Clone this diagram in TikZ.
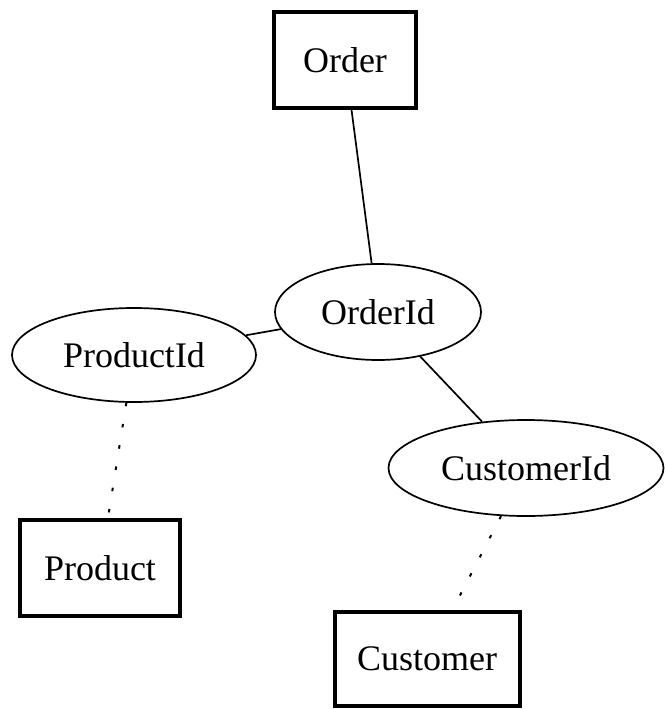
\documentclass[tikz,border=0pt]{standalone}
\usepackage{fontspec}
\setmainfont{Liberation Serif}
\usetikzlibrary{shapes.geometric}
\begin{document}
\begin{tikzpicture}[x=1pt,y=-1pt,
  entity/.style={draw, line width=4pt, rectangle, inner sep=0pt},
  attr/.style={draw, line width=1.7pt, ellipse, inner sep=0pt},
  link/.style={line width=1.7pt},
  weak/.style={line width=2pt, dash pattern=on 3.5pt off 18pt},
  every node/.style={font=\fontsize{36}{43}\selectfont}]
  \useasboundingbox (0,0) rectangle (666,709);

  % entities
  \node[entity, minimum width=142pt, minimum height=96pt] (order) at (345,60) {Order};
  \node[entity, minimum width=160pt, minimum height=96pt] (product) at (100,568) {Product};
  \node[entity, minimum width=185pt, minimum height=94pt] (customer) at (427,659) {Customer};

  % key attributes
  \node[attr, minimum width=206pt, minimum height=96pt] (orderid) at (378,312) {OrderId};
  \node[attr, minimum width=244pt, minimum height=94pt] (productid) at (134,355) {ProductId};
  \node[attr, minimum width=275pt, minimum height=96pt] (customerid) at (526,468) {CustomerId};

  % relations
  \draw[link] (order) -- (orderid);
  \draw[link] (orderid) -- (productid);
  \draw[link] (orderid) -- (customerid);
  \draw[weak] (productid) -- (product);
  \draw[weak] (customerid) -- (customer);
\end{tikzpicture}
\end{document}
